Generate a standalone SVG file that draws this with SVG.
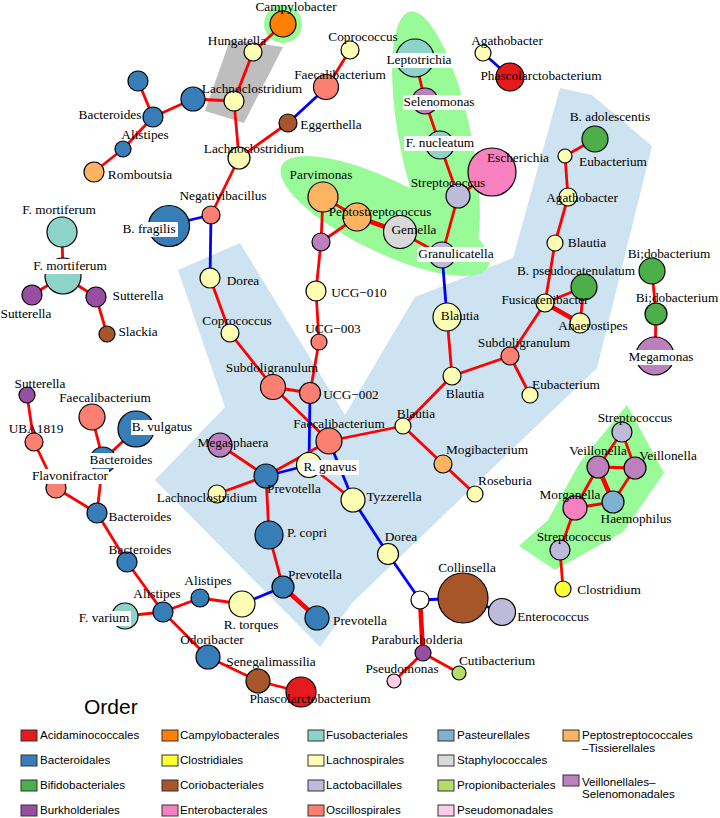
<svg xmlns="http://www.w3.org/2000/svg" width="720" height="818" viewBox="0 0 720 818">
<style>
.e{stroke:#ff0000;stroke-width:2.8;fill:none}
.b{stroke:#0000ff}
.t{stroke-width:4.6}
.nd circle{stroke:#000;stroke-width:1.2}
.l{font-family:"Liberation Serif",serif;font-size:13.3px;text-anchor:middle;fill:#000}
.bg{fill:#fff;stroke:none}
.lg{font-family:"Liberation Sans",sans-serif;font-size:11.6px;fill:#000}
.k{stroke:#333;stroke-width:1}
.hl{fill:#98FB98;stroke:none}
.Acid{fill:#E41A1C}.Bact{fill:#377EB8}.Bifi{fill:#4DAF4A}.Burk{fill:#984EA3}.Camp{fill:#FF7F00}.Clos{fill:#FFFF33}.Corio{fill:#A65628}.Entero{fill:#F781BF}.Fuso{fill:#8DD3C7}.Lachno{fill:#FFFFB3}.Lacto{fill:#BEBADA}.Oscill{fill:#FB8072}.Past{fill:#80B1D3}.Staph{fill:#D9D9D9}.Propi{fill:#B3DE69}.Pseudo{fill:#FCCDE5}.Pepto{fill:#FDB462}.Veil{fill:#BC80BD}.Wht{fill:#fff}
</style>
<rect width="720" height="818" fill="#fff"/>
<g id="backgrounds">
<polygon fill="#CDE3F2" points="178,270 240,243 345,415 415,297 513,258 560,88 592,95 652,146 597,368 352,603 320,647 155,480 225,407"/>
<polygon fill="#BEBEBE" points="230,40 283,47 244,123 205,111"/>
<circle class="hl" cx="283" cy="24" r="19"/>
<ellipse class="hl" cx="436" cy="142" rx="133" ry="36" transform="rotate(78.7 436 142)"/>
<ellipse class="hl" cx="385" cy="216" rx="115" ry="36" transform="rotate(26 385 216)"/>
<polygon class="hl" points="627,405 664,473 623,532 555,570 519,546 548,520 580,462"/>
</g>
<g id="connectors">
<line class="e" x1="283" y1="24" x2="253" y2="52"/>
<line class="e" x1="253" y1="52" x2="234" y2="101"/>
<line class="e" x1="234" y1="101" x2="193" y2="99"/>
<line class="e" x1="234" y1="101" x2="239" y2="158"/>
<line class="e" x1="193" y1="99" x2="153" y2="117"/>
<line class="e" x1="153" y1="117" x2="138" y2="81"/>
<line class="e" x1="153" y1="117" x2="123" y2="149"/>
<line class="e" x1="123" y1="149" x2="94" y2="172"/>
<line class="e" x1="239" y1="158" x2="211" y2="215"/>
<line class="e" x1="239" y1="158" x2="288" y2="123"/>
<line class="e b" x1="288" y1="123" x2="327" y2="87"/>
<line class="e" x1="327" y1="87" x2="350" y2="50"/>
<line class="e b" x1="211" y1="215" x2="169" y2="225"/>
<line class="e b" x1="211" y1="215" x2="210" y2="278"/>
<line class="e" x1="210" y1="278" x2="230" y2="333"/>
<line class="e" x1="230" y1="333" x2="273" y2="387"/>
<line class="e" x1="273" y1="387" x2="310" y2="393"/>
<line class="e" x1="273" y1="387" x2="329" y2="441"/>
<line class="e" x1="310" y1="393" x2="319" y2="342"/>
<line class="e" x1="319" y1="342" x2="316" y2="291"/>
<line class="e" x1="316" y1="291" x2="321" y2="242"/>
<line class="e" x1="321" y1="242" x2="323" y2="197"/>
<line class="e" x1="321" y1="242" x2="357" y2="217"/>
<line class="e" x1="323" y1="197" x2="357" y2="217"/>
<line class="e t" x1="357" y1="217" x2="400" y2="232"/>
<line class="e" x1="400" y1="232" x2="442" y2="255"/>
<line class="e" x1="442" y1="255" x2="458" y2="196"/>
<line class="e" x1="458" y1="196" x2="440" y2="145"/>
<line class="e" x1="458" y1="196" x2="492" y2="172"/>
<line class="e" x1="440" y1="145" x2="425" y2="101"/>
<line class="e" x1="425" y1="101" x2="415" y2="58"/>
<line class="e b" x1="483" y1="53" x2="510" y2="77"/>
<line class="e b" x1="442" y1="255" x2="447" y2="317"/>
<line class="e" x1="447" y1="317" x2="452" y2="376"/>
<line class="e" x1="452" y1="376" x2="510" y2="356"/>
<line class="e" x1="452" y1="376" x2="403" y2="426"/>
<line class="e" x1="510" y1="356" x2="545" y2="303"/>
<line class="e" x1="510" y1="356" x2="530" y2="395"/>
<line class="e" x1="545" y1="303" x2="555" y2="243"/>
<line class="e" x1="545" y1="303" x2="584" y2="287"/>
<line class="e t" x1="545" y1="303" x2="580" y2="323"/>
<line class="e" x1="584" y1="287" x2="580" y2="323"/>
<line class="e" x1="555" y1="243" x2="568" y2="197"/>
<line class="e" x1="568" y1="197" x2="565" y2="156"/>
<line class="e" x1="565" y1="156" x2="595" y2="139"/>
<line class="e" x1="652" y1="271" x2="656" y2="314"/>
<line class="e" x1="656" y1="314" x2="655" y2="356"/>
<line class="e b" x1="310" y1="393" x2="309" y2="465"/>
<line class="e" x1="329" y1="441" x2="403" y2="426"/>
<line class="e" x1="329" y1="441" x2="266" y2="476"/>
<line class="e b" x1="329" y1="441" x2="353" y2="500"/>
<line class="e b" x1="309" y1="465" x2="266" y2="476"/>
<line class="e" x1="309" y1="465" x2="353" y2="500"/>
<line class="e" x1="403" y1="426" x2="443" y2="464"/>
<line class="e" x1="443" y1="464" x2="475" y2="494"/>
<line class="e b" x1="353" y1="500" x2="388" y2="554"/>
<line class="e b" x1="388" y1="554" x2="420" y2="600"/>
<line class="e b" x1="420" y1="600" x2="463" y2="598"/>
<line class="e b" x1="463" y1="598" x2="502" y2="612"/>
<line class="e t" x1="420" y1="600" x2="423" y2="653"/>
<line class="e" x1="423" y1="653" x2="394" y2="681"/>
<line class="e" x1="423" y1="653" x2="459" y2="673"/>
<line class="e" x1="266" y1="476" x2="220" y2="445"/>
<line class="e" x1="266" y1="476" x2="217" y2="494"/>
<line class="e" x1="266" y1="476" x2="269" y2="535"/>
<line class="e" x1="269" y1="535" x2="283" y2="587"/>
<line class="e t" x1="283" y1="587" x2="317" y2="618"/>
<line class="e b" x1="283" y1="587" x2="242" y2="604"/>
<line class="e" x1="242" y1="604" x2="200" y2="598"/>
<line class="e" x1="200" y1="598" x2="163" y2="612"/>
<line class="e" x1="163" y1="612" x2="125" y2="616"/>
<line class="e" x1="163" y1="612" x2="127" y2="562"/>
<line class="e" x1="163" y1="612" x2="208" y2="657"/>
<line class="e" x1="208" y1="657" x2="258" y2="681"/>
<line class="e" x1="258" y1="681" x2="301" y2="692"/>
<line class="e" x1="127" y1="562" x2="97" y2="513"/>
<line class="e" x1="97" y1="513" x2="56" y2="488"/>
<line class="e" x1="97" y1="513" x2="103" y2="460"/>
<line class="e" x1="103" y1="460" x2="92" y2="417"/>
<line class="e" x1="103" y1="460" x2="136" y2="429"/>
<line class="e" x1="56" y1="488" x2="34" y2="442"/>
<line class="e" x1="34" y1="442" x2="27" y2="395"/>
<line class="e" x1="62" y1="232" x2="63" y2="276"/>
<line class="e" x1="63" y1="276" x2="32" y2="295"/>
<line class="e" x1="63" y1="276" x2="96" y2="297"/>
<line class="e" x1="96" y1="297" x2="107" y2="334"/>
<line class="e" x1="622" y1="432" x2="598" y2="467"/>
<line class="e" x1="622" y1="432" x2="635" y2="468"/>
<line class="e" x1="598" y1="467" x2="635" y2="468"/>
<line class="e t" x1="598" y1="467" x2="613" y2="502"/>
<line class="e" x1="635" y1="468" x2="613" y2="502"/>
<line class="e" x1="598" y1="467" x2="575" y2="508"/>
<line class="e" x1="575" y1="508" x2="613" y2="502"/>
<line class="e" x1="575" y1="508" x2="560" y2="550"/>
<line class="e" x1="560" y1="550" x2="563" y2="589"/>
</g>
<g class="nd">
<g id="n-campylobacter"><circle class="Camp" cx="283" cy="24" r="13"/><text class="l" x="296" y="11">Campylobacter</text></g>
<g id="n-hungatella"><circle class="Lachno" cx="253" cy="52" r="9"/><text class="l" x="237" y="45">Hungatella</text></g>
<g id="n-bacteroides-a"><circle class="Bact" cx="193" cy="99" r="12"/></g>
<g id="n-lachnoclostridium-a"><circle class="Lachno" cx="234" cy="101" r="10"/><text class="l" x="252" y="93">Lachnoclostridium</text></g>
<g id="n-bacteroides-x"><circle class="Bact" cx="138" cy="81" r="10"/></g>
<g id="n-bacteroides-b"><circle class="Bact" cx="153" cy="117" r="10"/><text class="l" x="110" y="119">Bacteroides</text></g>
<g id="n-alistipes-a"><circle class="Bact" cx="123" cy="149" r="8"/><text class="l" x="145" y="139">Alistipes</text></g>
<g id="n-romboutsia"><circle class="Pepto" cx="94" cy="172" r="10"/><text class="l" x="140" y="179">Romboutsia</text></g>
<g id="n-lachnoclostridium-b"><circle class="Lachno" cx="239" cy="158" r="11"/><text class="l" x="254" y="153">Lachnoclostridium</text></g>
<g id="n-negativibacillus"><circle class="Oscill" cx="211" cy="215" r="9"/><text class="l" x="223" y="200">Negativibacillus</text></g>
<g id="n-bfragilis"><circle class="Bact" cx="169" cy="226" r="20.5"/><rect class="bg" x="121" y="222" width="57" height="15"/><text class="l" x="149" y="233">B. fragilis</text></g>
<g id="n-coprococcus-a"><circle class="Lachno" cx="350" cy="50" r="9"/><text class="l" x="363" y="41">Coprococcus</text></g>
<g id="n-faecalibacterium-a"><circle class="Oscill" cx="326" cy="87" r="12.5"/><text class="l" x="340" y="79">Faecalibacterium</text></g>
<g id="n-eggerthella"><circle class="Corio" cx="288" cy="123" r="9"/><text class="l" x="331" y="129">Eggerthella</text></g>
<g id="n-leptotrichia"><circle class="Fuso" cx="415" cy="58" r="19"/><rect class="bg" x="386" y="53" width="67" height="15"/><text class="l" x="419" y="64">Leptotrichia</text></g>
<g id="n-selenomonas"><circle class="Veil" cx="425" cy="101" r="13"/><rect class="bg" x="403" y="95" width="73" height="15"/><text class="l" x="439" y="106">Selenomonas</text></g>
<g id="n-fnucleatum"><circle class="Fuso" cx="440" cy="145" r="14"/><rect class="bg" x="404" y="136" width="72" height="15"/><text class="l" x="440" y="147">F. nucleatum</text></g>
<g id="n-escherichia"><circle class="Entero" cx="492" cy="172" r="24"/><text class="l" x="518" y="162">Escherichia</text></g>
<g id="n-streptococcus-a"><circle class="Lacto" cx="458" cy="196" r="12"/><text class="l" x="448" y="187">Streptococcus</text></g>
<g id="n-agathobacter-a"><circle class="Lachno" cx="483" cy="53" r="8"/><text class="l" x="507" y="45">Agathobacter</text></g>
<g id="n-phascolarctobacterium-a"><circle class="Acid" cx="510" cy="77" r="14"/><text class="l" x="541" y="80">Phascolarctobacterium</text></g>
<g id="n-badolescentis"><circle class="Bifi" cx="595" cy="139" r="13"/><text class="l" x="610" y="121">B. adolescentis</text></g>
<g id="n-eubacterium-a"><circle class="Lachno" cx="565" cy="156" r="7"/><text class="l" x="613" y="166">Eubacterium</text></g>
<g id="n-agathobacter-b"><circle class="Lachno" cx="568" cy="197" r="9"/><text class="l" x="582" y="202">Agathobacter</text></g>
<g id="n-blautia-a"><circle class="Lachno" cx="555" cy="243" r="8"/><text class="l" x="587" y="247">Blautia</text></g>
<g id="n-bpseudocatenulatum"><circle class="Bifi" cx="584" cy="287" r="13"/><text class="l" x="576" y="275">B. pseudocatenulatum</text></g>
<g id="n-anaerostipes"><circle class="Lachno" cx="580" cy="323" r="10"/><text class="l" x="593" y="330">Anaerostipes</text></g>
<g id="n-fusicatenibacter"><circle class="Lachno" cx="545" cy="303" r="9"/><text class="l" x="545" y="304">Fusicatenibacter</text></g>
<g id="n-subdoligranulum-a"><circle class="Oscill" cx="510" cy="356" r="9"/><text class="l" x="524" y="347">Subdoligranulum</text></g>
<g id="n-eubacterium-b"><circle class="Lachno" cx="530" cy="395" r="8"/><text class="l" x="566" y="389">Eubacterium</text></g>
<g id="n-bifidobacterium-a"><circle class="Bifi" cx="652" cy="271" r="13"/><text class="l" x="669" y="258">Bi;dobacterium</text></g>
<g id="n-bifidobacterium-b"><circle class="Bifi" cx="656" cy="314" r="11"/><text class="l" x="677" y="302">Bi;dobacterium</text></g>
<g id="n-megamonas"><circle class="Veil" cx="655" cy="356" r="19"/><rect class="bg" x="628" y="350" width="67" height="15"/><text class="l" x="661" y="361">Megamonas</text></g>
<g id="n-parvimonas"><circle class="Pepto" cx="323" cy="197" r="15"/><text class="l" x="321" y="179">Parvimonas</text></g>
<g id="n-gemella"><circle class="Staph" cx="400" cy="232" r="16.5"/><text class="l" x="414" y="234">Gemella</text></g>
<g id="n-peptostreptococcus"><circle class="Pepto" cx="357" cy="217" r="14"/><text class="l" x="380" y="216">Peptostreptococcus</text></g>
<g id="n-granulicatella"><circle class="Lacto" cx="442" cy="255" r="13"/><rect class="bg" x="417" y="247" width="79" height="15"/><text class="l" x="456" y="258">Granulicatella</text></g>
<g id="n-veillonellales"><circle class="Veil" cx="321" cy="242" r="9"/></g>
<g id="n-ucg010"><circle class="Lachno" cx="316" cy="291" r="10"/><text class="l" x="359" y="297">UCG−010</text></g>
<g id="n-ucg003"><circle class="Oscill" cx="319" cy="342" r="8"/><text class="l" x="333" y="333">UCG−003</text></g>
<g id="n-ucg002"><circle class="Oscill" cx="310" cy="393" r="10.5"/><text class="l" x="351" y="399">UCG−002</text></g>
<g id="n-dorea-a"><circle class="Lachno" cx="210" cy="278" r="10"/><text class="l" x="243" y="285">Dorea</text></g>
<g id="n-coprococcus-b"><circle class="Lachno" cx="230" cy="333" r="9"/><text class="l" x="237" y="325">Coprococcus</text></g>
<g id="n-subdoligranulum-b"><circle class="Oscill" cx="273" cy="387" r="12.5"/><text class="l" x="272" y="372">Subdoligranulum</text></g>
<g id="n-blautia-b"><circle class="Lachno" cx="447" cy="317" r="14"/><text class="l" x="460" y="320">Blautia</text></g>
<g id="n-blautia-c"><circle class="Lachno" cx="452" cy="376" r="9"/><text class="l" x="465" y="398">Blautia</text></g>
<g id="n-fmortiferum-a"><circle class="Fuso" cx="62" cy="232" r="15"/><text class="l" x="59" y="214">F. mortiferum</text></g>
<g id="n-fmortiferum-b"><circle class="Fuso" cx="63" cy="276" r="18"/><rect class="bg" x="31" y="259" width="78" height="15"/><text class="l" x="70" y="270">F. mortiferum</text></g>
<g id="n-sutterella-a"><circle class="Burk" cx="32" cy="295" r="10"/><text class="l" x="26" y="318">Sutterella</text></g>
<g id="n-sutterella-b"><circle class="Burk" cx="96" cy="297" r="10"/><text class="l" x="138" y="300">Sutterella</text></g>
<g id="n-slackia"><circle class="Corio" cx="107" cy="334" r="8"/><text class="l" x="138" y="336">Slackia</text></g>
<g id="n-sutterella-c"><circle class="Burk" cx="27" cy="395" r="8"/><text class="l" x="40" y="388">Sutterella</text></g>
<g id="n-faecalibacterium-b"><circle class="Oscill" cx="92" cy="417" r="13"/><text class="l" x="105" y="402">Faecalibacterium</text></g>
<g id="n-uba1819"><circle class="Oscill" cx="34" cy="442" r="9"/><text class="l" x="36" y="433">UBA1819</text></g>
<g id="n-bvulgatus"><circle class="Bact" cx="136" cy="429" r="18"/><rect class="bg" x="131" y="420" width="63" height="15"/><text class="l" x="162" y="431">B. vulgatus</text></g>
<g id="n-bacteroides-c"><circle class="Bact" cx="103" cy="460" r="13"/><rect class="bg" x="88" y="453" width="66" height="15"/><text class="l" x="121" y="464">Bacteroides</text></g>
<g id="n-flavonifractor"><circle class="Oscill" cx="56" cy="488" r="10"/><rect class="bg" x="31" y="469" width="78" height="15"/><text class="l" x="70" y="480">Flavonifractor</text></g>
<g id="n-bacteroides-d"><circle class="Bact" cx="97" cy="513" r="10"/><text class="l" x="140" y="521">Bacteroides</text></g>
<g id="n-bacteroides-e"><circle class="Bact" cx="127" cy="562" r="10"/><text class="l" x="140" y="554">Bacteroides</text></g>
<g id="n-alistipes-b"><circle class="Bact" cx="200" cy="598" r="9"/><text class="l" x="208" y="585">Alistipes</text></g>
<g id="n-alistipes-c"><circle class="Bact" cx="163" cy="612" r="10"/><text class="l" x="157" y="598">Alistipes</text></g>
<g id="n-megasphaera"><circle class="Veil" cx="220" cy="445" r="12"/><text class="l" x="233" y="447">Megasphaera</text></g>
<g id="n-lachnoclostridium-c"><circle class="Lachno" cx="217" cy="494" r="9"/><text class="l" x="207" y="502">Lachnoclostridium</text></g>
<g id="n-faecalibacterium-c"><circle class="Oscill" cx="329" cy="441" r="13"/><text class="l" x="339" y="428">Faecalibacterium</text></g>
<g id="n-rgnavus"><circle class="Lachno" cx="309" cy="465" r="12.5"/><rect class="bg" x="302" y="460" width="57" height="15"/><text class="l" x="330" y="471">R. gnavus</text></g>
<g id="n-prevotella-a"><circle class="Bact" cx="266" cy="476" r="12"/><text class="l" x="294" y="493">Prevotella</text></g>
<g id="n-pcopri"><circle class="Bact" cx="269" cy="535" r="14"/><text class="l" x="307" y="537">P. copri</text></g>
<g id="n-prevotella-b"><circle class="Bact" cx="283" cy="587" r="11"/><text class="l" x="315" y="579">Prevotella</text></g>
<g id="n-prevotella-c"><circle class="Bact" cx="317" cy="618" r="12"/><text class="l" x="360" y="625">Prevotella</text></g>
<g id="n-blautia-d"><circle class="Lachno" cx="403" cy="426" r="8"/><text class="l" x="416" y="418">Blautia</text></g>
<g id="n-mogibacterium"><circle class="Pepto" cx="443" cy="464" r="9"/><text class="l" x="487" y="454">Mogibacterium</text></g>
<g id="n-roseburia"><circle class="Lachno" cx="475" cy="494" r="8"/><text class="l" x="505" y="485">Roseburia</text></g>
<g id="n-tyzzerella"><circle class="Lachno" cx="353" cy="500" r="12"/><text class="l" x="394" y="501">Tyzzerella</text></g>
<g id="n-dorea-b"><circle class="Lachno" cx="388" cy="554" r="10.5"/><text class="l" x="401" y="541">Dorea</text></g>
<g id="n-unknown"><circle class="Wht" cx="420" cy="600" r="9"/></g>
<g id="n-collinsella"><circle class="Corio" cx="463" cy="598" r="25"/><text class="l" x="467" y="572">Collinsella</text></g>
<g id="n-enterococcus"><circle class="Lacto" cx="502" cy="612" r="13.5"/><text class="l" x="553" y="621">Enterococcus</text></g>
<g id="n-paraburkholderia"><circle class="Burk" cx="423" cy="653" r="8"/><text class="l" x="417" y="644">Paraburkholderia</text></g>
<g id="n-pseudomonas"><circle class="Pseudo" cx="394" cy="681" r="7"/><text class="l" x="402" y="673">Pseudomonas</text></g>
<g id="n-cutibacterium"><circle class="Propi" cx="459" cy="673" r="7"/><text class="l" x="497" y="665">Cutibacterium</text></g>
<g id="n-fvarium"><circle class="Fuso" cx="125" cy="616" r="13"/><rect class="bg" x="77" y="611" width="54" height="15"/><text class="l" x="104" y="622">F. varium</text></g>
<g id="n-rtorques"><circle class="Lachno" cx="242" cy="604" r="13"/><text class="l" x="251" y="629">R. torques</text></g>
<g id="n-odoribacter"><circle class="Bact" cx="208" cy="657" r="12"/><text class="l" x="212" y="644">Odoribacter</text></g>
<g id="n-senegalimassilia"><circle class="Corio" cx="258" cy="681" r="12"/><text class="l" x="271" y="666">Senegalimassilia</text></g>
<g id="n-phascolarctobacterium-b"><circle class="Acid" cx="301" cy="692" r="15"/><text class="l" x="310" y="703">Phascolarctobacterium</text></g>
<g id="n-streptococcus-b"><circle class="Lacto" cx="622" cy="432" r="10"/><text class="l" x="635" y="422">Streptococcus</text></g>
<g id="n-veillonella-a"><circle class="Veil" cx="598" cy="467" r="11"/><text class="l" x="598" y="455">Veillonella</text></g>
<g id="n-veillonella-b"><circle class="Veil" cx="635" cy="468" r="11"/><text class="l" x="668" y="460">Veillonella</text></g>
<g id="n-haemophilus"><circle class="Past" cx="613" cy="502" r="11"/><text class="l" x="636" y="523">Haemophilus</text></g>
<g id="n-morganella"><circle class="Entero" cx="575" cy="508" r="12"/><text class="l" x="570" y="499">Morganella</text></g>
<g id="n-streptococcus-c"><circle class="Lacto" cx="560" cy="550" r="10"/><text class="l" x="574" y="541">Streptococcus</text></g>
<g id="n-clostridium"><circle class="Clos" cx="563" cy="589" r="8"/><text class="l" x="609" y="594">Clostridium</text></g>
</g>
<g id="legend">
<text x="84" y="714" style="font-family:'Liberation Sans',sans-serif;font-size:21px">Order</text>
<rect class="k Acid" x="21" y="730" width="16" height="11"/><text class="lg" x="40" y="739">Acidaminococcales</text>
<rect class="k Bact" x="21" y="755" width="16" height="11"/><text class="lg" x="40" y="764">Bacteroidales</text>
<rect class="k Bifi" x="21" y="780" width="16" height="11"/><text class="lg" x="40" y="789">Bifidobacteriales</text>
<rect class="k Burk" x="21" y="805" width="16" height="11"/><text class="lg" x="40" y="814">Burkholderiales</text>
<rect class="k Camp" x="162" y="730" width="16" height="11"/><text class="lg" x="180" y="739">Campylobacterales</text>
<rect class="k Clos" x="162" y="755" width="16" height="11"/><text class="lg" x="180" y="764">Clostridiales</text>
<rect class="k Corio" x="162" y="780" width="16" height="11"/><text class="lg" x="180" y="789">Coriobacteriales</text>
<rect class="k Entero" x="162" y="805" width="16" height="11"/><text class="lg" x="180" y="814">Enterobacterales</text>
<rect class="k Fuso" x="308" y="730" width="16" height="11"/><text class="lg" x="326" y="739">Fusobacteriales</text>
<rect class="k Lachno" x="308" y="755" width="16" height="11"/><text class="lg" x="326" y="764">Lachnospirales</text>
<rect class="k Lacto" x="308" y="780" width="16" height="11"/><text class="lg" x="326" y="789">Lactobacillales</text>
<rect class="k Oscill" x="308" y="805" width="16" height="11"/><text class="lg" x="326" y="814">Oscillospirales</text>
<rect class="k Past" x="438" y="730" width="16" height="11"/><text class="lg" x="457" y="739">Pasteurellales</text>
<rect class="k Staph" x="438" y="755" width="16" height="11"/><text class="lg" x="457" y="764">Staphylococcales</text>
<rect class="k Propi" x="438" y="780" width="16" height="11"/><text class="lg" x="457" y="789">Propionibacteriales</text>
<rect class="k Pseudo" x="438" y="805" width="16" height="11"/><text class="lg" x="457" y="814">Pseudomonadales</text>
<rect class="k Pepto" x="563" y="730" width="16" height="11"/><text class="lg" x="582" y="739">Peptostreptococcales</text><text class="lg" x="582" y="752">–Tissierellales</text>
<rect class="k Veil" x="563" y="775" width="16" height="11"/><text class="lg" x="582" y="786">Veillonellales–</text><text class="lg" x="582" y="798">Selenomonadales</text>
</g>
</svg>
